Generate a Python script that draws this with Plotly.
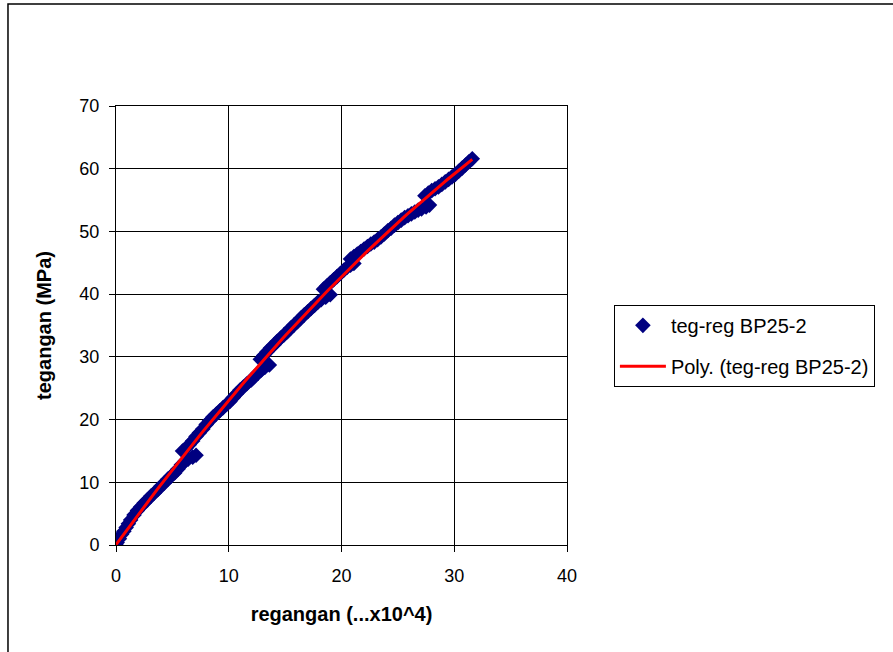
import numpy as np
import plotly.graph_objects as go

strain = [0, 0.1, 0.3, 0.5, 0.7, 0.9, 1.1, 1.3, 1.6, 1.9, 2.2, 2.5, 2.8, 3.1, 3.4, 3.7, 4.0, 4.3, 4.6, 4.9,
          5.2, 5.5, 5.8, 6.1, 6.4, 6.8, 7.1,
          5.9, 6.2, 6.5, 6.8, 7.1, 7.4, 7.7, 8.0, 8.3, 8.6, 8.9, 9.2, 9.5, 9.8, 10.1, 10.4, 10.7, 11.0, 11.3,
          11.6, 12.0, 12.3, 12.6, 12.9, 13.2, 13.6,
          12.8, 13.1, 13.4, 13.7, 14.0, 14.3, 14.6, 14.9, 15.2, 15.5, 15.8, 16.1, 16.4, 16.7, 17.0, 17.3, 17.6,
          17.9, 18.2, 18.6, 19.0,
          18.4, 18.7, 19.0, 19.3, 19.6, 19.9, 20.2, 20.5, 20.8, 21.1,
          20.8, 21.1, 21.4, 21.7, 22.0, 22.3, 22.6, 22.9, 23.2, 23.5, 23.8, 24.1, 24.4, 24.7, 25.0, 25.3, 25.6,
          25.9, 26.2, 26.5, 26.8, 27.1, 27.5, 27.8,
          27.4, 27.7, 28.0, 28.3, 28.6, 28.9, 29.2, 29.5, 29.8, 30.1, 30.4, 30.7, 31.0, 31.3, 31.6]
stress = [0, 0.4, 1.0, 1.7, 2.2, 2.8, 3.4, 4.0, 4.8, 5.5, 6.1, 6.7, 7.2, 7.8, 8.3, 8.8, 9.4, 9.9, 10.5, 11.0,
          11.5, 12.1, 12.8, 13.3, 13.7, 14.0, 14.3,
          15.0, 15.4, 16.0, 16.6, 17.3, 17.9, 18.5, 19.2, 19.8, 20.4, 20.9, 21.4, 21.9, 22.4, 22.9, 23.5, 24.1,
          24.7, 25.2, 25.7, 26.3, 26.9, 27.4, 27.9, 28.3, 28.7,
          29.6, 30.2, 30.8, 31.4, 31.9, 32.5, 33.0, 33.5, 34.0, 34.6, 35.1, 35.6, 36.2, 36.7, 37.2, 37.7, 38.2,
          38.7, 39.1, 39.5, 39.9,
          40.8, 41.3, 41.8, 42.3, 42.8, 43.3, 43.8, 44.3, 44.6, 44.9,
          45.6, 46.0, 46.4, 46.8, 47.2, 47.6, 48.0, 48.3, 48.7, 49.1, 49.6, 50.1, 50.5, 51.0, 51.4, 51.8, 52.2,
          52.5, 52.8, 53.1, 53.4, 53.6, 53.9, 54.2,
          55.7, 56.1, 56.5, 56.8, 57.1, 57.5, 57.9, 58.3, 58.7, 59.1, 59.6, 60.1, 60.6, 61.1, 61.6]

x_ticks = [0, 10, 20, 30, 40]
y_ticks = [0, 10, 20, 30, 40, 50, 60, 70]

coef = np.polyfit(strain, stress, 2)
xf = np.linspace(min(strain), max(strain), 100)
yf = np.polyval(coef, xf)

FONT = "Liberation Sans, Arial, sans-serif"

fig = go.Figure()
fig.add_trace(go.Scatter(x=strain, y=stress, mode="markers", name="teg-reg BP25-2", legendgroup="a",
                         marker=dict(symbol="diamond", size=12, color="#000080")))
fig.add_trace(go.Scatter(x=xf, y=yf, mode="lines", name="Poly. (teg-reg BP25-2)", legendgroup="b",
                         line=dict(color="#ff0000", width=3)))

axis_common = dict(showgrid=True, gridcolor="black", gridwidth=1, showline=True, linecolor="black",
                   linewidth=1, mirror=True, zeroline=False, ticks="outside", ticklen=6,
                   tickcolor="black", tickfont=dict(family=FONT, size=18, color="black"))
fig.update_xaxes(range=[0, 40], tickvals=x_ticks, ticklabelstandoff=8,
                 title=dict(text="<b>regangan (...x10^4)</b>", font=dict(family=FONT, size=20, color="black"),
                            standoff=22), **axis_common)
fig.update_yaxes(range=[0, 70], tickvals=y_ticks, ticklabelstandoff=6,
                 title=dict(text="<b>tegangan (MPa)</b>", font=dict(family=FONT, size=20, color="black"),
                            standoff=22), **axis_common)

fig.update_layout(
    width=893, height=652,
    margin=dict(l=116, r=326, t=106, b=107),
    paper_bgcolor="white", plot_bgcolor="white",
    font=dict(family=FONT, color="black"),
    legend=dict(x=1.104, y=0.547, xanchor="left", yanchor="top",
                bordercolor="black", borderwidth=1, bgcolor="white", itemwidth=46,
                font=dict(family=FONT, size=20, color="black"), tracegroupgap=12),
    shapes=[dict(type="rect", xref="paper", yref="paper", x0=-0.2395, x1=2.0, y0=-0.5, y1=1.2323,
                 line=dict(color="black", width=1.5), layer="below")],
)

fig.write_html("out.html", config={"displayModeBar": False},
               post_script="document.body.style.margin='0';")
